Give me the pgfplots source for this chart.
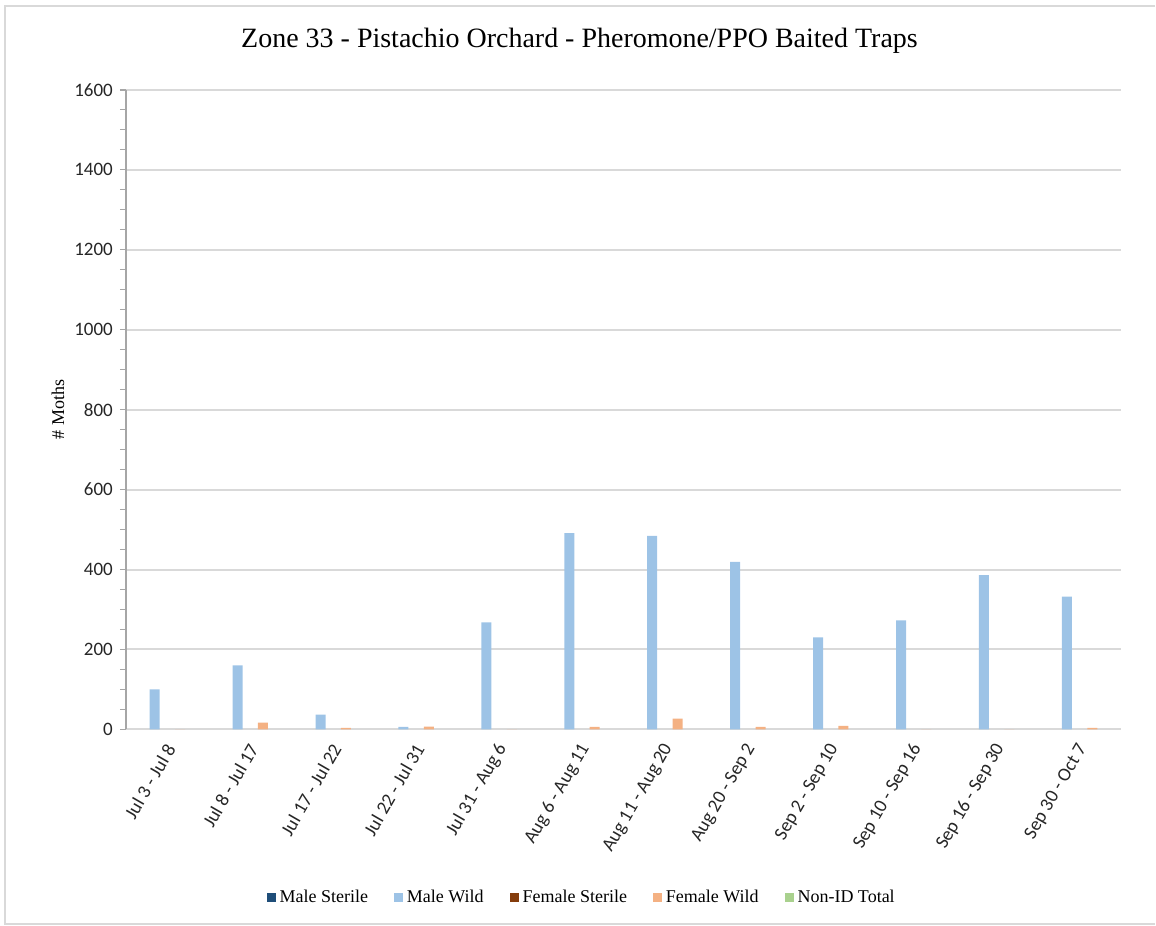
\documentclass[border=0pt]{standalone}
\usepackage{fontspec}
\setmainfont{Liberation Serif}
\newfontfamily\carlito{Carlito}
\usepackage{pgfplots}
\pgfplotsset{compat=1.18}
\usepackage{pgfplotstable}

\definecolor{msterile}{HTML}{1F4E79}
\definecolor{mwild}{HTML}{9DC3E6}
\definecolor{fsterile}{HTML}{843C0C}
\definecolor{fwild}{HTML}{F4B183}
\definecolor{nonid}{HTML}{A9D18E}
\definecolor{gridgray}{HTML}{D9D9D9}
\definecolor{axisgray}{HTML}{A6A6A6}

\pgfplotstableread{
idx msterile mwild fsterile fwild nonid
0   0  100 0  0 0
1   0  160 0 17 0
2   0   37 0  4 0
3   0    6 0  7 0
4   0  268 0  0 0
5   0  491 0  6 0
6   0  484 0 27 0
7   0  419 0  6 0
8   0  230 0  9 0
9   0  273 0  0 0
10  0  386 0  0 0
11  0  332 0  4 0
}\moths

\begin{document}
\begin{tikzpicture}[x=0.5pt,y=0.5pt]
  % frame of the chart area (1 unit = 1 px of the reference)
  \path (0,0) rectangle (1156,926);
  \draw[gridgray, line width=1pt] (1156,920) -- (5,920) -- (5,1) -- (1156,1);

  \node[font=\fontsize{14}{17}\selectfont] at (580,885)
    {Zone 33 - Pistachio Orchard - Pheromone/PPO Baited Traps};
  \node[rotate=90, font=\fontsize{9}{11}\selectfont] at (58,516) {\# Moths};

  \begin{axis}[
      at={(63pt,98pt)}, anchor=south west,
      scale only axis, width=498pt, height=320pt,
      ybar=1.35pt, bar width=5pt,
      xmin=-0.5, xmax=11.5, ymin=0, ymax=1600,
      ytick={0,200,...,1600}, minor y tick num=3,
      xtick={0,...,11},
      xticklabels={Jul 3 - Jul 8, Jul 8 - Jul 17, Jul 17 - Jul 22, Jul 22 - Jul 31,
        Jul 31 - Aug 6, Aug 6 - Aug 11, Aug 11 - Aug 20, Aug 20 - Sep 2,
        Sep 2 - Sep 10, Sep 10 - Sep 16, Sep 16 - Sep 30, Sep 30 - Oct 7},
      axis y line*=left, axis x line*=bottom,
      ymajorgrids, grid style={gridgray, line width=1pt},
      y axis line style={axisgray, line width=1pt},
      x axis line style={gridgray, line width=1pt},
      xtick style={draw=none},
      ytick style={axisgray, line width=0.6pt},
      tick align=outside, major tick length=3pt, minor tick length=3pt,
      /pgf/number format/assume math mode=true,
      /pgf/number format/1000 sep={},
      yticklabel style={font=\carlito\fontsize{9.5}{11}\selectfont, text=black!85},
      xticklabel style={rotate=60, anchor=east, yshift=-4pt,
        font=\carlito\fontsize{9.5}{11}\selectfont, text=black!85},
      legend columns=5,
      legend style={at={(0.459,-0.263)}, anchor=center, draw=none,
        font=\fontsize{9}{11}\selectfont,
        /tikz/every even column/.append style={column sep=11pt}},
      legend image code/.code={\fill[#1] (0pt,-2.25pt) rectangle (4.5pt,2.25pt);},
    ]
    % all-zero series: no fill in the plot (no baseline sliver), colour kept for the legend
    \addplot[fill=none, draw=none, legend image post style={fill=msterile}]
      table[x=idx, y=msterile] {\moths};
    \addlegendentry{Male Sterile}
    \addplot[fill=mwild, draw=none] table[x=idx, y=mwild] {\moths};
    \addlegendentry{Male Wild}
    \addplot[fill=none, draw=none, legend image post style={fill=fsterile}]
      table[x=idx, y=fsterile] {\moths};
    \addlegendentry{Female Sterile}
    \addplot[fill=fwild, draw=none] table[x=idx, y=fwild] {\moths};
    \addlegendentry{Female Wild}
    \addplot[fill=none, draw=none, legend image post style={fill=nonid}]
      table[x=idx, y=nonid] {\moths};
    \addlegendentry{Non-ID Total}
  \end{axis}
\end{tikzpicture}
\end{document}
